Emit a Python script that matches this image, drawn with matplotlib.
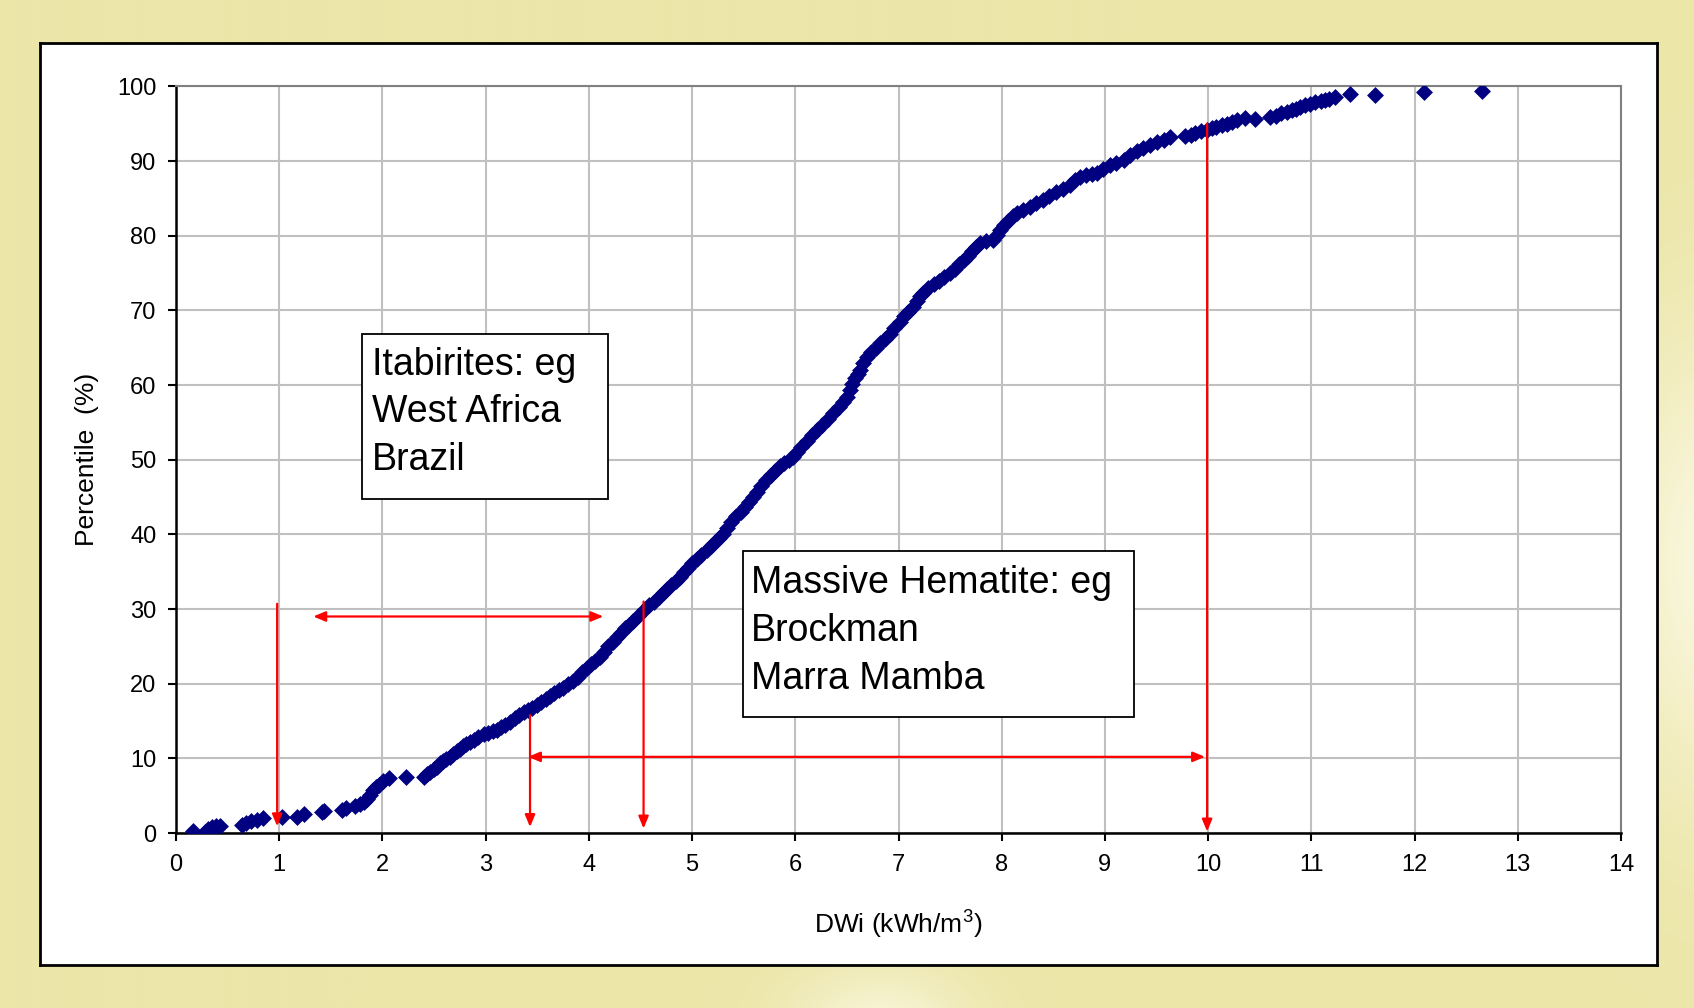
import matplotlib
matplotlib.use("Agg")
import numpy as np
import matplotlib.pyplot as plt
from matplotlib.patches import Rectangle, FancyArrowPatch

plt.rcParams['font.family'] = ['Liberation Sans', 'DejaVu Sans']
plt.rcParams['mathtext.fontset'] = 'custom'
plt.rcParams['mathtext.rm'] = 'Liberation Sans'

# ---- data ----
dwi = [0.16, 0.28, 0.31, 0.35, 0.39, 0.43,
       0.64, 0.68, 0.73, 0.78, 0.84,
       1.03, 1.17, 1.24, 1.41, 1.43,
       1.61, 1.65, 1.73, 1.78, 1.82, 1.85, 1.88, 1.91, 1.94, 1.97, 2.01, 2.06,
       2.23,
       2.40, 2.43, 2.46, 2.50, 2.53, 2.56, 2.59, 2.62, 2.65, 2.68, 2.72, 2.75, 2.78, 2.81, 2.85, 2.89, 2.93, 2.98,
       3.02, 3.07, 3.11, 3.15, 3.19, 3.24, 3.28, 3.32, 3.37, 3.41, 3.45, 3.50, 3.54, 3.58, 3.62, 3.66, 3.71, 3.75,
       3.80, 3.85, 3.89, 3.93, 3.98, 4.02, 4.06, 4.11, 4.15, 4.19, 4.23, 4.27, 4.31, 4.35, 4.39, 4.43, 4.48, 4.53,
       4.58, 4.63, 4.68, 4.72, 4.76, 4.80, 4.84, 4.88, 4.92, 4.96, 5.00, 5.05, 5.09, 5.14, 5.18, 5.22, 5.26, 5.30,
       5.34, 5.38, 5.43, 5.47, 5.51, 5.55, 5.59, 5.63, 5.67, 5.72, 5.76, 5.80, 5.85, 5.89, 5.94, 5.98, 6.02, 6.06,
       6.11, 6.16, 6.21, 6.26, 6.32, 6.37, 6.42, 6.46, 6.50, 6.53, 6.55, 6.58, 6.61, 6.63, 6.66, 6.69, 6.73, 6.78,
       6.82, 6.87, 6.92, 6.96, 7.01, 7.05, 7.09, 7.14, 7.18, 7.21, 7.24, 7.29, 7.34, 7.39, 7.44, 7.50, 7.55, 7.59,
       7.63, 7.67, 7.71, 7.75, 7.79, 7.85, 7.92, 7.95, 7.98, 8.02, 8.06, 8.11, 8.15, 8.21, 8.27, 8.33, 8.40, 8.46,
       8.53, 8.59, 8.66, 8.71, 8.76, 8.82, 8.87, 8.92, 8.98, 9.05, 9.11, 9.18, 9.24, 9.31, 9.37, 9.44, 9.50, 9.57,
       9.63,
       9.78, 9.83, 9.87, 9.93, 9.99, 10.04, 10.08, 10.13, 10.18, 10.23, 10.28, 10.36, 10.45,
       10.60, 10.66, 10.71, 10.76, 10.81, 10.85, 10.89, 10.94, 10.99, 11.04, 11.09, 11.13, 11.17, 11.23,
       11.37, 11.62, 12.09, 12.65]

percentile = [0.3, 0.2, 0.5, 0.75, 0.9, 0.95,
              1.1, 1.4, 1.6, 1.8, 1.95,
              2.2, 2.2, 2.5, 2.8, 3.0,
              3.1, 3.4, 3.6, 3.9, 4.1, 4.5, 5.1, 5.7, 6.1, 6.4, 6.9, 7.3,
              7.45,
              7.5, 7.9, 8.2, 8.6, 8.9, 9.4, 9.6, 9.9, 10.2, 10.6, 11.0, 11.3, 11.6, 11.9, 12.2, 12.5, 12.8, 13.2,
              13.4, 13.6, 13.8, 14.2, 14.5, 14.9, 15.4, 15.8, 16.2, 16.5, 16.8, 17.1, 17.5, 17.9, 18.3, 18.7, 19.1, 19.4,
              19.9, 20.4, 20.9, 21.5, 22.1, 22.6, 23.1, 23.6, 24.3, 25.0, 25.6, 26.2, 26.8, 27.4, 27.9, 28.4, 29.1, 29.9,
              30.5, 31.0, 31.6, 32.1, 32.7, 33.2, 33.7, 34.3, 34.9, 35.5, 36.1, 36.7, 37.3, 37.9, 38.5, 39.0, 39.5, 40.1,
              40.8, 41.6, 42.4, 43.0, 43.7, 44.4, 45.0, 45.7, 46.5, 47.3, 47.9, 48.5, 49.1, 49.5, 49.9, 50.4, 51.0, 51.7,
              52.5, 53.3, 54.0, 54.7, 55.5, 56.2, 57.0, 57.7, 58.4, 59.3, 60.2, 60.9, 61.5, 62.0, 62.9, 63.8, 64.4, 65.0,
              65.6, 66.2, 66.9, 67.6, 68.4, 69.2, 69.8, 70.5, 71.3, 71.9, 72.3, 73.0, 73.6, 74.0, 74.5, 75.0, 75.6, 76.2,
              76.7, 77.3, 77.9, 78.5, 79.0, 79.3, 79.4, 80.1, 80.8, 81.5, 82.0, 82.6, 83.0, 83.5, 83.9, 84.4, 84.8, 85.3,
              85.9, 86.3, 86.8, 87.4, 87.9, 88.1, 88.3, 88.4, 88.9, 89.5, 89.8, 90.2, 90.8, 91.3, 91.7, 92.2, 92.5, 92.8,
              93.2,
              93.3, 93.5, 93.7, 94.0, 94.2, 94.4, 94.6, 94.8, 95.0, 95.2, 95.5, 95.8, 95.7,
              95.9, 96.1, 96.4, 96.6, 96.8, 97.0, 97.3, 97.5, 97.7, 97.9, 98.0, 98.2, 98.3, 98.6,
              99.0, 98.9, 99.2, 99.4]

x_ticks = list(range(0, 15))
y_ticks = list(range(0, 101, 10))

# annotation arrows: (x0, y0, x1, y1, style)
arrows = [
    (0.98, 30.7, 0.98, 0.9, '-|>'),
    (1.33, 29.0, 4.14, 29.0, '<|-|>'),
    (4.53, 31.0, 4.53, 0.6, '-|>'),
    (3.43, 15.8, 3.43, 0.8, '-|>'),
    (3.41, 10.2, 9.97, 10.2, '<|-|>'),
    (9.99, 95.0, 9.99, 0.2, '-|>'),
]

box1_lines = ["Itabirites: eg", "West Africa", "Brazil"]
box2_lines = ["Massive Hematite: eg", "Brockman", "Marra Mamba"]

# ---- figure ----
W, H = 1694, 1008
fig = plt.figure(figsize=(W / 100, H / 100), dpi=100)
fig.patch.set_facecolor('#ECE6A9')

# soft light glows of the slide background
bgimg_ax = fig.add_axes([0, 0, 1, 1])
bgimg_ax.set_axis_off()
bgimg_ax.set_zorder(-1)
yy, xx = np.mgrid[0:H:4, 0:W:4]
base = np.array([236, 230, 169]) / 255.0
light = np.array([250, 247, 222]) / 255.0
g = np.exp(-(((xx - 1720) / 110.0) ** 2 + ((yy - 560) / 230.0) ** 2))
g2 = np.exp(-(((xx - 880) / 90.0) ** 2)) * np.clip((yy - 940) / 68.0, 0, 1) * 0.8
w = np.clip(g + g2, 0, 1)[..., None]
img = base * (1 - w) + light * w
bgimg_ax.imshow(img, extent=[0, W, H, 0], aspect='auto', interpolation='bilinear')

# white chart panel (background axes)
bg = fig.add_axes([40 / W, 1 - 965 / H, 1617 / W, 922 / H])
bg.set_xticks([])
bg.set_yticks([])
bg.set_facecolor('white')
for s in bg.spines.values():
    s.set_color('black')
    s.set_linewidth(2.0)
bg.set_zorder(0)

ax = fig.add_axes([176 / W, (H - 833) / H, 1445 / W, 746.6 / H])
ax.set_zorder(1)
ax.set_xlim(0, 14)
ax.set_ylim(0, 100)
ax.set_xticks(x_ticks)
ax.set_yticks(y_ticks)
ax.grid(True, color='#C0C0C0', linewidth=1.5)
ax.set_axisbelow(True)

for s in ['left', 'bottom']:
    ax.spines[s].set_color('black')
    ax.spines[s].set_linewidth(1.8)
for s in ['top', 'right']:
    ax.spines[s].set_color('#808080')
    ax.spines[s].set_linewidth(1.5)

ax.tick_params(axis='both', direction='out', length=6, width=1.5, labelsize=17, colors='black')
ax.tick_params(axis='x', pad=9)
ax.tick_params(axis='y', pad=8)

ax.scatter(dwi, percentile, marker='D', s=74, color='#000080', linewidths=0, zorder=3)

for x0, y0, x1, y1, st in arrows:
    style = st + ',head_length=0.6,head_width=0.25'
    ax.add_patch(FancyArrowPatch((x0, y0), (x1, y1), arrowstyle=style, mutation_scale=12,
                                 color='#FF0000', linewidth=1.6, shrinkA=0, shrinkB=0, zorder=5))

# text boxes
ax.add_patch(Rectangle((1.80, 44.7), 2.39, 22.2, facecolor='white', edgecolor='black',
                       linewidth=1.3, zorder=4))
for t, yv in zip(box1_lines, [62.75, 56.45, 49.95]):
    ax.text(1.90, yv, t, fontsize=27, ha='left', va='center', zorder=6)

ax.add_patch(Rectangle((5.49, 15.6), 3.79, 22.2, facecolor='white', edgecolor='black',
                       linewidth=1.3, zorder=4))
for t, yv in zip(box2_lines, [33.45, 27.05, 20.65]):
    ax.text(5.57, yv, t, fontsize=27, ha='left', va='center', zorder=6)

ax.set_ylabel('Percentile  (%)', fontsize=19)
ax.yaxis.set_label_coords(-0.053, 0.5)
ax.set_xlabel('DWi (kWh/m$^{3}$)', fontsize=19)
ax.xaxis.set_label_coords(0.5, -0.099)

fig.savefig('out.png', dpi=100)
